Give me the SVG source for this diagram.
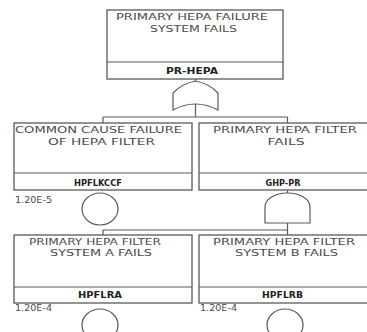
<svg xmlns="http://www.w3.org/2000/svg" width="367" height="332" viewBox="0 0 367 332">
<style>
.box{fill:#fff;stroke:#5a5a5a;stroke-width:1.3}
.ln{fill:none;stroke:#5a5a5a;stroke-width:1.2}
.gate{fill:#fff;stroke:#5a5a5a;stroke-width:1.2}
.t{font-family:"DejaVu Sans",sans-serif;font-size:9px;fill:#4a4a4a;text-anchor:middle}
.id{font-family:"DejaVu Sans",sans-serif;font-size:9.5px;font-weight:bold;fill:#222;text-anchor:middle}
.p{font-family:"DejaVu Sans",sans-serif;font-size:9px;fill:#4a4a4a}
</style>
<rect width="367" height="332" fill="#fff"/>
<g id="connectors">
<path class="ln" d="M195.5,79V81M195.5,104V117M103,117H287.5M103,117V123M287.5,117V123"/>
<path class="ln" d="M287.5,190V193M287.5,223V230M103,230H287.5M103,230V235M287.5,230V235"/>
</g>
<g id="PR-HEPA">
<rect class="box" x="107" y="10" width="176" height="69"/>
<line class="ln" x1="107" y1="62" x2="283" y2="62"/>
<text class="t" x="192" y="20" textLength="152" lengthAdjust="spacingAndGlyphs">PRIMARY HEPA FAILURE</text>
<text class="t" x="193.5" y="32" textLength="87" lengthAdjust="spacingAndGlyphs">SYSTEM FAILS</text>
<text class="id" x="192" y="74" textLength="52" lengthAdjust="spacingAndGlyphs">PR-HEPA</text>
</g>
<g id="gate-or">
<path class="gate" d="M173,110 L173,93 Q181,84 195.5,81 Q210,84 218,93 L218,110 Q195.5,98 173,110 Z"/>
</g>
<g id="HPFLKCCF">
<rect class="box" x="14" y="123" width="178" height="67"/>
<line class="ln" x1="14" y1="173" x2="192" y2="173"/>
<text class="t" x="98.5" y="133" textLength="167" lengthAdjust="spacingAndGlyphs">COMMON CAUSE FAILURE</text>
<text class="t" x="101.5" y="145" textLength="107" lengthAdjust="spacingAndGlyphs">OF HEPA FILTER</text>
<text class="id" x="98" y="186" textLength="48" lengthAdjust="spacingAndGlyphs">HPFLKCCF</text>
<text class="p" x="15" y="203" textLength="37" lengthAdjust="spacingAndGlyphs">1.20E-5</text>
<ellipse class="gate" cx="100" cy="209" rx="18" ry="16"/>
</g>
<g id="GHP-PR">
<rect class="box" x="199" y="123" width="178" height="67"/>
<line class="ln" x1="199" y1="173" x2="377" y2="173"/>
<text class="t" x="285" y="133" textLength="144" lengthAdjust="spacingAndGlyphs">PRIMARY HEPA FILTER</text>
<text class="t" x="286" y="145" textLength="37" lengthAdjust="spacingAndGlyphs">FAILS</text>
<text class="id" x="283" y="186" textLength="35" lengthAdjust="spacingAndGlyphs">GHP-PR</text>
</g>
<g id="gate-and">
<path class="gate" d="M265,223 L265,207 A22.5,14 0 0 1 310,207 L310,223 Z"/>
</g>
<g id="HPFLRA">
<rect class="box" x="14" y="235" width="178" height="68"/>
<line class="ln" x1="14" y1="287" x2="192" y2="287"/>
<text class="t" x="95" y="245" textLength="132" lengthAdjust="spacingAndGlyphs">PRIMARY HEPA FILTER</text>
<text class="t" x="101" y="256" textLength="102" lengthAdjust="spacingAndGlyphs">SYSTEM A FAILS</text>
<text class="id" x="100" y="298" textLength="44" lengthAdjust="spacingAndGlyphs">HPFLRA</text>
<text class="p" x="15" y="311" textLength="37" lengthAdjust="spacingAndGlyphs">1.20E-4</text>
<ellipse class="gate" cx="100" cy="325" rx="18" ry="16"/>
</g>
<g id="HPFLRB">
<rect class="box" x="199" y="235" width="178" height="68"/>
<line class="ln" x1="199" y1="287" x2="377" y2="287"/>
<text class="t" x="284" y="245" textLength="142" lengthAdjust="spacingAndGlyphs">PRIMARY HEPA FILTER</text>
<text class="t" x="286.5" y="256" textLength="103" lengthAdjust="spacingAndGlyphs">SYSTEM B FAILS</text>
<text class="id" x="282.5" y="298" textLength="41" lengthAdjust="spacingAndGlyphs">HPFLRB</text>
<text class="p" x="200" y="311" textLength="37" lengthAdjust="spacingAndGlyphs">1.20E-4</text>
<ellipse class="gate" cx="285" cy="325" rx="18" ry="16"/>
</g>
</svg>
